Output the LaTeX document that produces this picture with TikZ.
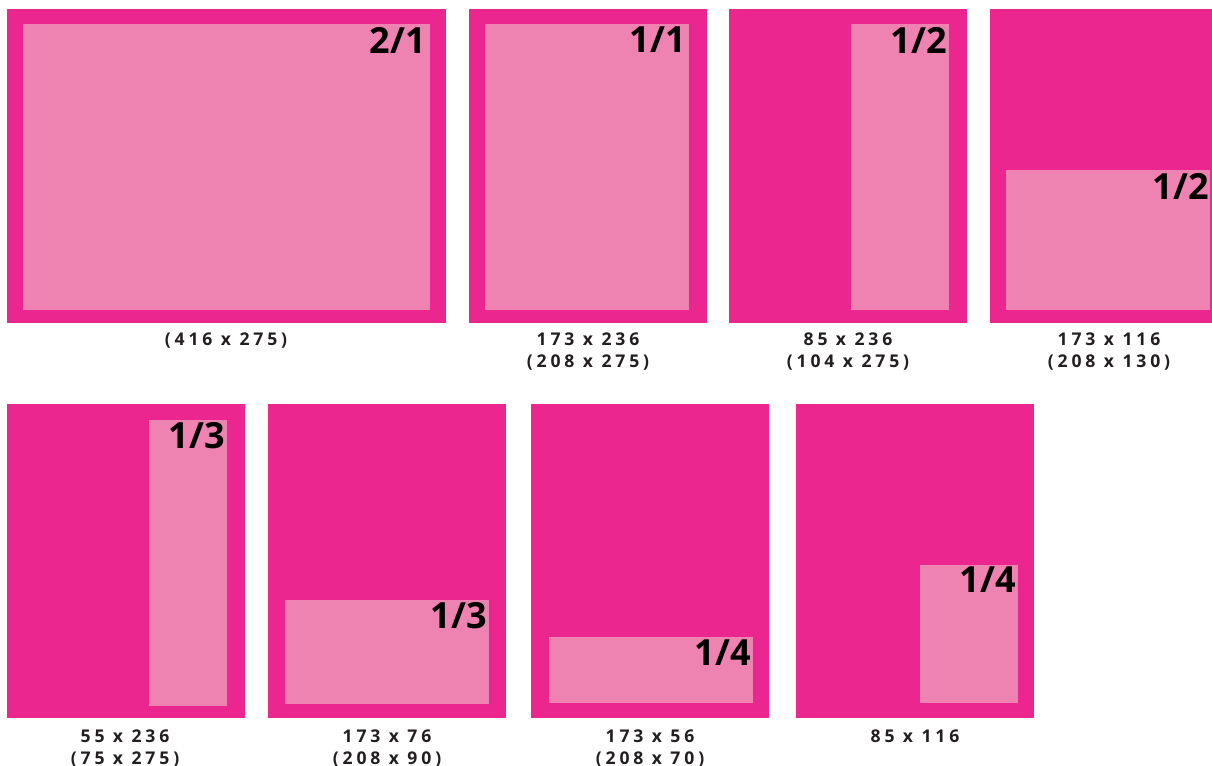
\documentclass[tikz,border=0pt]{standalone}
\usepackage{fontspec}
\setmainfont{Open Sans}
\newfontfamily\dimfont[LetterSpace=22]{Open Sans}
\usetikzlibrary{positioning}
\definecolor{hotpink}{RGB}{236,38,143}
\definecolor{softpink}{RGB}{238,130,176}
\definecolor{ink}{RGB}{35,31,32}
\tikzset{
  panel/.style={fill=hotpink},
  slot/.style={fill=softpink},
  frac/.style={anchor=north east,inner sep=1pt,font=\fontsize{20.5}{20.5}\selectfont\bfseries,text=black},
  dims/.style={font=\dimfont\fontsize{10}{12.4}\selectfont\bfseries,text=ink,align=center,anchor=north},
}
\begin{document}
\begin{tikzpicture}[x=0.02cm,y=-0.02cm]
  \useasboundingbox (0,0) rectangle (1212,765);
  % top row
  \fill[panel] (7,9) rectangle (446,323);
  \fill[slot] (23,24) rectangle (430,310);
  \node[frac] (f1) at (428,25) {2/1};
  \node[dims] (d1) at (226,327) {(416 x 275)};

  \fill[panel] (469,9) rectangle (707,323);
  \fill[slot] (485,24) rectangle (689,310);
  \node[frac] (f2) at (688,25) {1/1};
  \node[dims] (d2) at (588,327) {173 x 236\\(208 x 275)};

  \fill[panel] (729,9) rectangle (967,323);
  \fill[slot] (851,24) rectangle (949,310);
  \node[frac] (f3) at (949,25) {1/2};
  \node[dims] (d3) at (848,327) {85 x 236\\(104 x 275)};

  \fill[panel] (990,9) rectangle (1212,323);
  \fill[slot] (1006,170) rectangle (1210,310);
  \node[frac] (f4) at (1211,171) {1/2};
  \node[dims] (d4) at (1109,327) {173 x 116\\(208 x 130)};

  % bottom row
  \fill[panel] (7,404) rectangle (245,718);
  \fill[slot] (149,420) rectangle (227,706);
  \node[frac] (f5) at (227,420) {1/3};
  \node[dims] (d5) at (125,724) {55 x 236\\(75 x 275)};

  \fill[panel] (268,404) rectangle (506,718);
  \fill[slot] (285,600) rectangle (489,704);
  \node[frac] (f6) at (489,600) {1/3};
  \node[dims] (d6) at (387,724) {173 x 76\\(208 x 90)};

  \fill[panel] (531,404) rectangle (769,718);
  \fill[slot] (549,637) rectangle (753,703);
  \node[frac] (f7) at (753,638) {1/4};
  \node[dims] (d7) at (650,724) {173 x 56\\(208 x 70)};

  \fill[panel] (796,404) rectangle (1034,718);
  \fill[slot] (920,565) rectangle (1018,703);
  \node[frac] (f8) at (1018,565) {1/4};
  \node[dims] (d8) at (915,724) {85 x 116};
\end{tikzpicture}
\end{document}
